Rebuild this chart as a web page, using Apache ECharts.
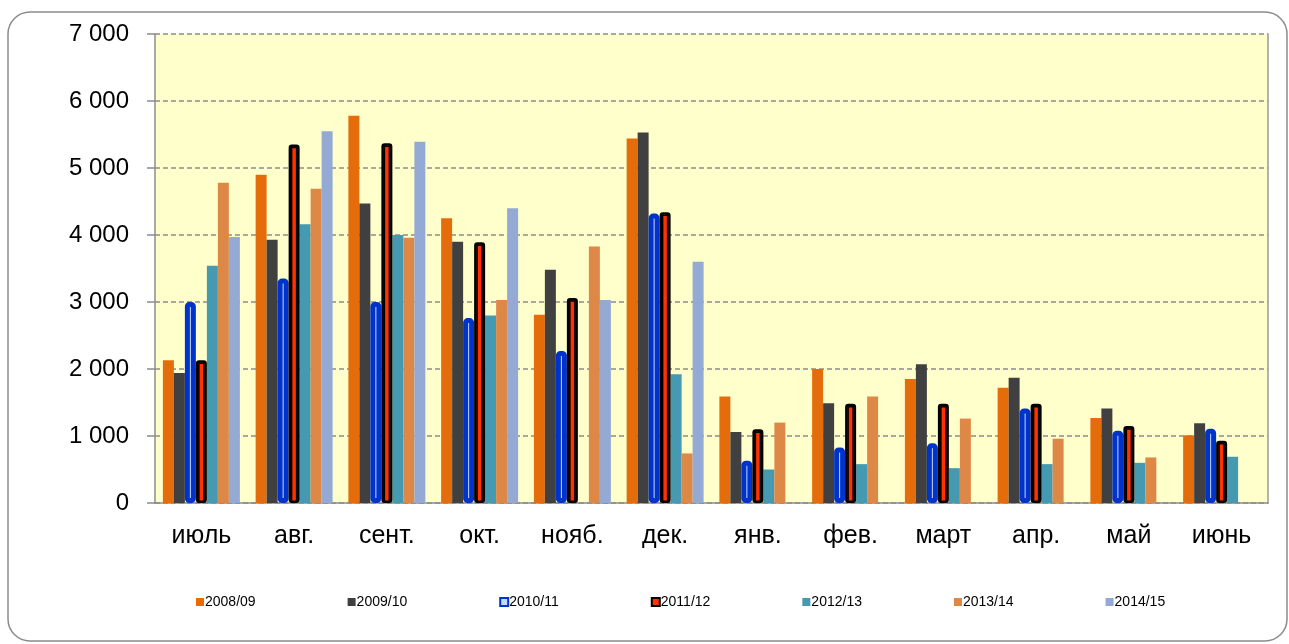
<!DOCTYPE html>
<html lang="ru">
<head>
    <meta charset="UTF-8">
    <title>Chart</title>
    <script src="https://cdn.jsdelivr.net/npm/echarts@6/dist/echarts.min.js"></script>
    <style>
        html, body { margin: 0; padding: 0; background: #fff; }
        #main { width: 1289px; height: 644px; }
    </style>
</head>
<body>
<div id="main"></div>
<script>
    // месяцы
    var months = ['июль', 'авг.', 'сент.', 'окт.', 'нояб.', 'дек.', 'янв.', 'фев.', 'март', 'апр.', 'май', 'июнь'];
    var s0809 = [2130, 4900, 5780, 4250, 2810, 5440, 1590, 2000, 1850, 1720, 1270, 1010];
    var s0910 = [1940, 3930, 4470, 3900, 3480, 5530, 1060, 1490, 2070, 1870, 1410, 1190];
    var s1011 = [3000, 3350, 3000, 2760, 2270, 4320, 630, 830, 890, 1410, 1080, 1110];
    var s1112 = [2130, 5350, 5370, 3890, 3060, 4340, 1100, 1480, 1480, 1480, 1150, 930];
    var s1213 = [3540, 4160, 4000, 2800, null, 1920, 500, 580, 520, 580, 600, 690];
    var s1314 = [4780, 4690, 3960, 3030, 3830, 740, 1200, 1590, 1260, 960, 680, null];
    var s1415 = [3970, 5550, 5390, 4400, 3030, 3600, null, null, null, null, null, null];
    var yTicks = [0, 1000, 2000, 3000, 4000, 5000, 6000, 7000];

    var catGap = 0.17;
    var font = 'Arial, "Liberation Sans", sans-serif';

    function fmt(v) {
        return String(v).replace(/\B(?=(\d{3})+(?!\d))/g, ' ');
    }

    var myChart = echarts.init(document.getElementById('main'));
    var option = {
        animation: false,
        textStyle: { fontFamily: font },
        graphic: [{
            type: 'rect',
            shape: { x: 8, y: 12, width: 1279, height: 629, r: 22 },
            style: { fill: null, stroke: '#8c8c8c', lineWidth: 1.5 },
            silent: true
        }],
        grid: {
            left: 155, right: 21, top: 34, bottom: 141,
            show: true,
            backgroundColor: '#ffffcc',
            borderColor: '#999',
            borderWidth: 0
        },
        legend: {
            left: 191, bottom: 30,
            itemWidth: 8, itemHeight: 8, itemGap: 92,
            icon: 'rect',
            textStyle: { fontSize: 14, color: '#000', fontFamily: font, padding: [0, 0, 0, -4] },
            data: ['2008/09', '2009/10', '2010/11', '2011/12', '2012/13', '2013/14', '2014/15']
        },
        xAxis: {
            type: 'category',
            data: months,
            axisLine: { lineStyle: { color: '#8c8c8c', width: 1.5 } },
            axisTick: { length: 8, lineStyle: { color: '#8c8c8c', width: 1.5 } },
            axisLabel: { fontSize: 25, color: '#000', margin: 21 }
        },
        yAxis: [{
            type: 'value',
            min: 0, max: 7000, interval: 1000,
            axisLine: { show: true, lineStyle: { color: '#8c8c8c', width: 1.5 } },
            axisTick: { show: true, length: 8, lineStyle: { color: '#8c8c8c', width: 1.5 } },
            axisLabel: { fontSize: 24, color: '#000', margin: 26, formatter: fmt },
            splitLine: { lineStyle: { color: '#8c8c8c', type: [5, 3], width: 1.5 } }
        }, {
            // правая рамка
            type: 'value',
            position: 'right',
            min: 0, max: 7000, interval: 1000,
            axisLine: { show: true, lineStyle: { color: '#999', width: 1.5 } },
            axisTick: { show: false },
            axisLabel: { show: false },
            splitLine: { show: false }
        }],
        series: [
            { name: '2008/09', type: 'bar', data: s0809, barGap: '0%', barCategoryGap: '17%',
              itemStyle: { color: '#e46c0a' } },
            { name: '2009/10', type: 'bar', data: s0910, itemStyle: { color: '#404040' } },
            { name: '2010/11', type: 'bar', data: s1011, z: 3,
              itemStyle: { color: '#c6d9f1', borderColor: '#0033cc', borderWidth: 5, borderRadius: 2 } },
            { name: '2011/12', type: 'bar', data: s1112, z: 4,
              itemStyle: { color: '#ff3300', borderColor: '#000', borderWidth: 2.5, borderRadius: 2 } },
            { name: '2012/13', type: 'bar', data: s1213, itemStyle: { color: '#4599b0' } },
            { name: '2013/14', type: 'bar', data: s1314, itemStyle: { color: '#de8847' } },
            { name: '2014/15', type: 'bar', data: s1415, barGap: '0%', barCategoryGap: '17%',
              itemStyle: { color: '#94a9d3' } },
            {
                // внутренняя рамка у 2011/12
                type: 'custom',
                z: 5,
                silent: true,
                data: s1112.map(function (v, i) { return [i, v]; }),
                encode: { x: 0, y: 1 },
                renderItem: function (params, api) {
                    var band = api.size([1, 0])[0];
                    var groupW = band * (1 - catGap);
                    var bw = groupW / 7;
                    var base = api.coord([api.value(0), 0]);
                    var top = api.coord([api.value(0), api.value(1)]);
                    var x0 = base[0] - groupW / 2 + 3 * bw;
                    return {
                        type: 'rect',
                        shape: { x: x0 + 3, y: top[1] + 3, width: bw - 6, height: base[1] - top[1] - 4 },
                        style: { fill: null, stroke: '#000', lineWidth: 1.5 }
                    };
                }
            }
        ]
    };
    myChart.setOption(option);
</script>
</body>
</html>
